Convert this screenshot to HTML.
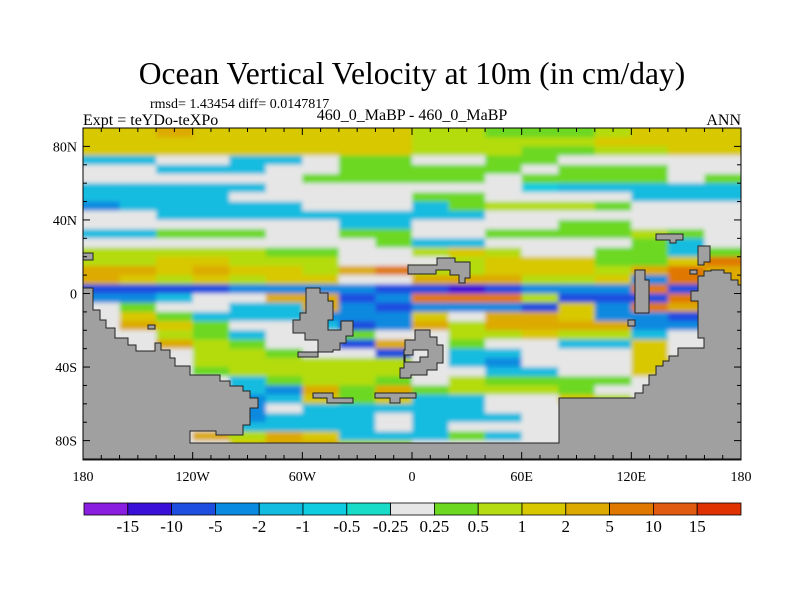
<!DOCTYPE html>
<html><head><meta charset="utf-8"><style>
body{margin:0;background:#fff;}
svg{display:block;font-family:"Liberation Serif",serif;}
</style></head><body>
<svg id="chart" width="800" height="600" viewBox="0 0 800 600">
<defs>
<filter id="soft" x="0" y="0" width="1" height="1"><feGaussianBlur stdDeviation="2.2"/></filter>
<clipPath id="plotclip"><rect x="83" y="128" width="658" height="331"/></clipPath>
</defs>
<text x="412" y="84" text-anchor="middle" font-size="31.5">Ocean Vertical Velocity at 10m (in cm/day)</text>
<text x="150" y="108" font-size="14">rmsd= 1.43454 diff= 0.0147817</text>
<text x="83" y="125" font-size="16">Expt = teYDo-teXPo</text>
<text x="412" y="120" text-anchor="middle" font-size="16">460_0_MaBP - 460_0_MaBP</text>
<text x="741" y="125" text-anchor="end" font-size="16">ANN</text>
<g clip-path="url(#plotclip)">
<g id="cells" filter="url(#soft)"></g>
</g>
<g fill="#a0a0a0" stroke="#222" stroke-width="1">
<path d="M83,288 L93,288 93,310 100,310 100,320 106,320 106,328 115,328 115,338 128,338 128,345 136,345 136,351 155,351 155,343 161,343 161,350 170,350 170,358 175,358 175,366 190,366 190,375 220,375 220,381 230,381 230,386 243,386 243,391 250,391 250,398 258,398 258,408 250,408 250,425 243,425 243,435 216,435 216,431 190,431 190,443 559,443 559,398 635,398 635,393 643,393 643,385 649,385 649,375 656,375 656,366 663,366 663,361 669,361 669,356 678,356 678,348 704,348 704,338 698,338 698,301 691,301 691,291 698,291 698,276 704,276 704,271 711,271 711,270 724,270 724,273 731,273 731,280 738,280 738,285 741,285 741,460 83,460 Z"/>
<path d="M306,288 L320,288 320,293 328,293 328,301 333,301 333,320 328,320 328,330 341,330 341,321 353,321 353,336 346,336 346,343 340,343 340,350 333,350 333,352 318,352 318,357 298,357 298,352 318,352 318,340 305,340 305,333 293,333 293,320 300,320 300,313 306,313 Z"/>
<path d="M313,393 L333,393 333,398 353,398 353,403 327,403 327,398 313,398 Z"/>
<path d="M375,393 L416,393 416,398 400,398 400,403 390,403 390,398 375,398 Z"/>
<path fill-rule="evenodd" d="M405,340 L415,340 415,330 430,330 430,337 437,337 437,345 443,345 443,363 437,363 437,370 427,370 427,375 411,375 411,378 400,378 400,368 404,368 404,350 405,350 Z M413,350 L428,350 428,357 420,357 420,362 405,362 405,355 413,355 Z"/>
<path d="M408,265 L437,265 437,258 455,258 455,262 470,262 470,278 465,278 465,283 459,283 459,275 450,275 450,270 436,270 436,274 408,274 Z"/>
<path d="M635,270 L645,270 645,280 649,280 649,313 635,313 Z M628,320 L635,320 635,326 628,326 Z"/>
<path d="M656,234 L683,234 683,240 676,240 676,243 670,243 670,240 656,240 Z"/>
<path d="M698,246 L710,246 710,262 704,262 704,265 698,265 Z M690,270 L697,270 697,274 690,274 Z"/>
<path d="M148,325 L155,325 155,329 148,329 Z M83,253 L93,253 93,260 83,260 Z"/>
</g>
<rect x="83" y="128" width="658" height="331" fill="none" stroke="#000" stroke-width="1"/>
<g id="ticks"></g>
<g id="colorbar"></g>
</svg>
<script>
const colors=["#8a1ee0","#3a10d8","#1e4ee0","#0a8ae0","#12bce0","#10cce0","#18dcc8","#e6e6e6","#6cd820","#b4dc10","#d8c800","#dcaa00","#e07800","#e05a10","#e03200"];
const cbLabels=["-15","-10","-5","-2","-1","-0.5","-0.25","0.25","0.5","1","2","5","10","15"];
const rows=[
"AABAAAAAA998889AAA","AAAAAAAAA99999AAAA","AAAAAAAAA9998899AA","447744788778877777",
"774447788888788877","777777888887888878","444447777777544444","444477777887777444",
"344444777489998777","774444444447777777","777777744777788777","448887788778888987",
"777777778447777847","9999988779A9778848","99AA9997779AAA88AC","BBABAA9BC99AAA9BCB",
"BA9A9AA77BBB99A3CB","222233332212333C2B","33477BB23CCC9222C2","787744B323332A3CB3",
"7A8444333A7BBA3322","7BA877423B9BBBB337","779847787799A99477","77B98772B787744A77",
"777998772744777A77","777999999743777AA7","777899999774477A77","777748998798888777",
"777743B8B8999877A7","777734A8A4477A9777","777737444447777777","777734447444777777",
"777744447477777777","777B9BA44484777777","7777ABB99777777777","777777777777777777"];
const lonCats=Array.from({length:18},(_,i)=>-180+i*20);
const latCats=Array.from({length:36},(_,i)=>90-i*5);
const lonTicks=["180","120W","60W","0","60E","120E","180"];
const latTicks=["80N","40N","0","40S","80S"];
const latTickVals=[80,40,0,-40,-80];
const X=lon=>83+(lon+180)*658/360;
const Y=lat=>128+(90-lat)*331/180;
const NS="http://www.w3.org/2000/svg";
const cells=document.getElementById('cells');
rows.forEach((r,ri)=>{[...r].forEach((ch,ci)=>{
 const v=parseInt(ch,16);
 const rc=document.createElementNS(NS,'rect');
 let x0=X(lonCats[ci]),x1=X(lonCats[ci]+20),y0=Y(latCats[ri]),y1=Y(latCats[ri]-5);
 if(ci===0)x0-=10; if(ci===17)x1+=10; if(ri===0)y0-=10; if(ri===35)y1+=10;
 rc.setAttribute('x',x0);rc.setAttribute('y',y0);
 rc.setAttribute('width',x1-x0+0.6);rc.setAttribute('height',y1-y0+0.6);
 rc.setAttribute('fill',colors[v]);
 
 
 cells.appendChild(rc);});});
const tk=document.getElementById('ticks');
function line(x1,y1,x2,y2){const l=document.createElementNS(NS,'line');l.setAttribute('x1',x1);l.setAttribute('y1',y1);l.setAttribute('x2',x2);l.setAttribute('y2',y2);l.setAttribute('stroke','#000');


tk.appendChild(l);}
function txt(s,x,y,anchor,name){const t=document.createElementNS(NS,'text');t.setAttribute('x',x);t.setAttribute('y',y);t.setAttribute('text-anchor',anchor);t.setAttribute('font-size','14');t.textContent=s;


tk.appendChild(t);}
for(let lon=-180;lon<=180;lon+=10){const len=lon%60===0?7:4;line(X(lon),128,X(lon),128+len);line(X(lon),459,X(lon),459-len);}
for(let lat=-90;lat<=90;lat+=10){const len=lat%40===0?7:4;line(83,Y(lat),83+len,Y(lat));line(741,Y(lat),741-len,Y(lat));}
lonTicks.forEach((s,i)=>txt(s,X(-180+i*60),481,'middle','lon-tick-label'));
latTicks.forEach((s,i)=>txt(s,77,Y(latTickVals[i])+5,'end','lat-tick-label'));
const cb=document.getElementById('colorbar');
const bw=(741-84)/colors.length;
colors.forEach((c,i)=>{const r=document.createElementNS(NS,'rect');r.setAttribute('x',84+i*bw);r.setAttribute('y',503);r.setAttribute('width',bw);r.setAttribute('height',12);r.setAttribute('fill',c);r.setAttribute('stroke','#000');r.setAttribute('stroke-width','0.8');


cb.appendChild(r);});
cbLabels.forEach((s,i)=>{const t=document.createElementNS(NS,'text');t.setAttribute('x',84+(i+1)*bw);t.setAttribute('y',532);t.setAttribute('text-anchor','middle');t.setAttribute('font-size','17');t.textContent=s;


cb.appendChild(t);});
</script>
</body></html>
